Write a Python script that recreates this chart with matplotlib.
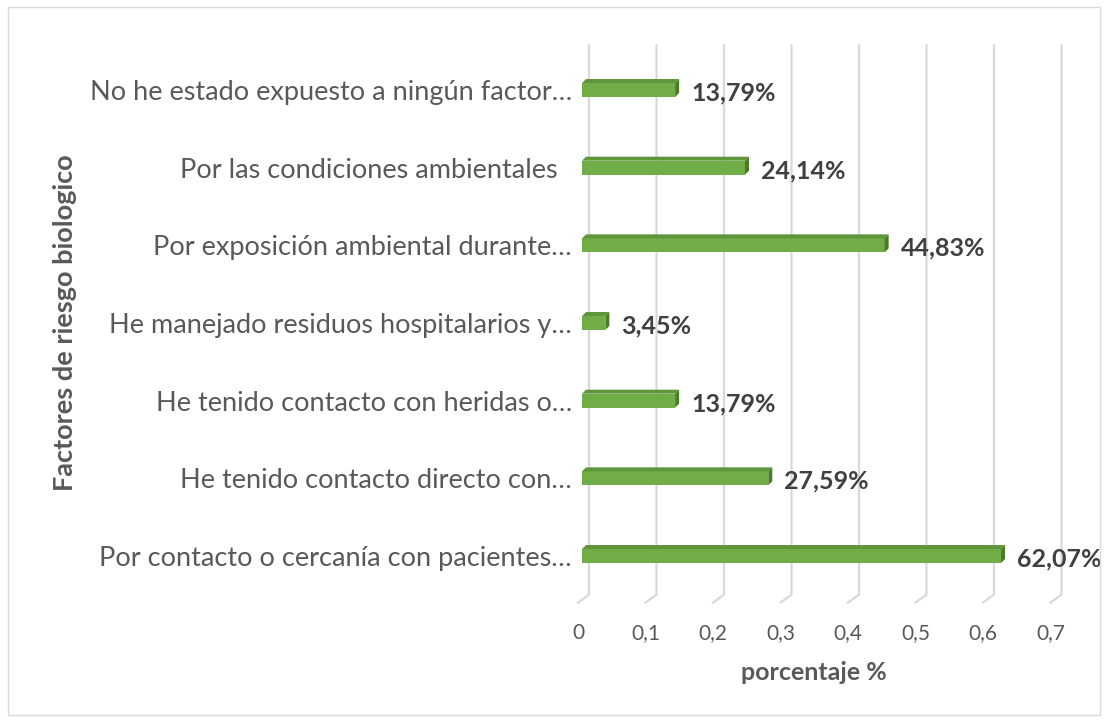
import matplotlib
matplotlib.use("Agg")
import matplotlib.pyplot as plt
from matplotlib.patches import Polygon, Rectangle
from matplotlib.transforms import IdentityTransform

categories = [
    "No he estado expuesto a ningún factor…",
    "Por las condiciones ambientales  ",
    "Por exposición ambiental durante…",
    "He manejado residuos hospitalarios y…",
    "He tenido contacto con heridas o…",
    "He tenido contacto directo con…",
    "Por contacto o cercanía con pacientes…",
]
values = [0.1379, 0.2414, 0.4483, 0.0345, 0.1379, 0.2759, 0.6207]
value_labels = ["13,79%", "24,14%", "44,83%", "3,45%", "13,79%", "27,59%", "62,07%"]
xticks = [0, 0.1, 0.2, 0.3, 0.4, 0.5, 0.6, 0.7]
xtick_labels = ["0", "0,1", "0,2", "0,3", "0,4", "0,5", "0,6", "0,7"]
xlabel = "porcentaje %"
ylabel = "Factores de riesgo biologico"

FONT = ["Lato", "DejaVu Sans"]
plt.rcParams["font.family"] = FONT

W, H = 1108, 722
fig = plt.figure(figsize=(W / 100, H / 100), dpi=100)
fig.patch.set_facecolor("white")

# chart border
fig.add_artist(Rectangle((8 / W, 7 / H), (1100 - 8) / W, (715 - 7) / H,
                         transform=fig.transFigure, fill=False,
                         edgecolor="#D9D9D9", lw=1.0))

ax = fig.add_axes([578 / W, (H - 602.6) / H, 472.5 / W, (602.6 - 43.4) / H])
n = len(categories)
ypos = list(range(n))[::-1]
ax.set_xlim(0, 0.7)
ax.set_ylim(-0.6, n - 0.4)
for s in ax.spines.values():
    s.set_visible(False)
ax.set_facecolor("none")

fig.canvas.draw()

DX, DY = 11, 8  # 3D depth offset of back wall (pixels)
ytop_disp = ax.transAxes.transform((0, 1))[1] - 2
for v in xticks:
    fx, fy = ax.transData.transform((v, -0.6))
    ax.add_line(plt.Line2D([fx, fx + DX, fx + DX], [fy, fy + DY, ytop_disp],
                           transform=IdentityTransform(), color="#D9D9D9",
                           lw=1.6, zorder=1, clip_on=False))

# bars
bh = 0.18
ax.barh(ypos, values, height=bh, color="#70AD47", zorder=3, left=0.006)
d = 4
for y, v, lab in zip(ypos, values, value_labels):
    x0, y0 = ax.transData.transform((0.006, y + bh / 2))
    x1, _ = ax.transData.transform((0.006 + v, y + bh / 2))
    _, yb = ax.transData.transform((0, y - bh / 2))
    top = Polygon([(x0, y0), (x1, y0), (x1 + d, y0 + d), (x0 + d, y0 + d)],
                  closed=True, transform=IdentityTransform(),
                  facecolor="#5F963B", edgecolor="none", zorder=4, clip_on=False)
    side = Polygon([(x1, y0), (x1 + d, y0 + d), (x1 + d, yb + d), (x1, yb)],
                   closed=True, transform=IdentityTransform(),
                   facecolor="#4B7A2B", edgecolor="none", zorder=4, clip_on=False)
    ax.add_patch(top)
    ax.add_patch(side)
    ax.text(x1 + d + 12, (y0 + yb) / 2 - 3, lab, transform=IdentityTransform(),
            ha="left", va="center", fontsize=18, fontweight="bold",
            color="#404040", zorder=5)

ax.set_yticks(ypos)
ax.set_yticklabels(categories, fontsize=19.5, color="#595959")
ax.set_xticks(xticks)
ax.set_xticklabels(xtick_labels, fontsize=15, color="#595959")
ax.tick_params(axis="both", length=0)
ax.tick_params(axis="y", pad=4.5)
ax.tick_params(axis="x", pad=15)

fig.text(814 / W, 1 - 673 / H, xlabel, ha="center", va="center",
         fontsize=18, fontweight="bold", color="#595959")
fig.text(65 / W, 1 - 323 / H, ylabel, ha="center", va="center", rotation=90,
         fontsize=19.5, fontweight="bold", color="#595959")

fig.savefig("out.png", dpi=100)
